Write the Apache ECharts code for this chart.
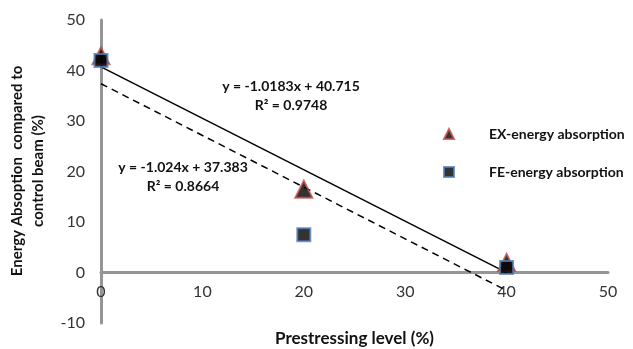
<!DOCTYPE html>
<html>
<head>
<meta charset="utf-8">
<script src="https://cdn.jsdelivr.net/npm/echarts@6/dist/echarts.min.js"></script>
<style>
  html, body { margin: 0; padding: 0; background: #fff; }
  #chart { width: 633px; height: 349px; }
</style>
</head>
<body>
<div id="chart"></div>
<script>
// prestressing levels (%)
const levels = [0, 20, 40];
// energy absorption relative to control beam (%)
const exValues = [42.9, 16.5, 2.0];
const feValues = [42.0, 7.5, 1.0];
// trendline equations as printed on the chart
const exFit = { slope: -1.0183, intercept: 40.715, r2: 0.9748 };
const feFit = { slope: -1.024, intercept: 37.383, r2: 0.8664 };
const xTicks = [0, 10, 20, 30, 40, 50];
const yTicks = [-10, 0, 10, 20, 30, 40, 50];

const font = "Lato, 'Open Sans', sans-serif";

function pairs(xs, ys) {
  return xs.map((x, i) => [x, ys[i]]);
}
function fitLine(fit) {
  const x0 = levels[0], x1 = levels[levels.length - 1];
  return [[x0, fit.slope * x0 + fit.intercept], [x1, fit.slope * x1 + fit.intercept]];
}

const chart = echarts.init(document.getElementById("chart"));

// x axis sits on y = 0, which is 1/6 of the plot height above the bottom
const plotH = 349 - 20 - 26;
const zeroOffset = plotH * (0 - yTicks[0]) / (yTicks[yTicks.length - 1] - yTicks[0]);

chart.setOption({
  animation: false,
  backgroundColor: "#fff",
  grid: { left: 101, right: 25, top: 20, bottom: 26, containLabel: false, outerBoundsMode: "none" },
  xAxis: {
    type: "value",
    min: xTicks[0],
    max: xTicks[xTicks.length - 1],
    interval: 10,
    offset: -zeroOffset,
    axisLine: { onZero: false, lineStyle: { color: "#959595", width: 3 } },
    axisTick: { show: false },
    splitLine: { show: false },
    axisLabel: { color: "#333", fontFamily: font, fontSize: 16, margin: 11 },
    name: "Prestressing level (%)",
    nameLocation: "middle",
    nameGap: 58,
    nameTextStyle: { color: "#111", fontFamily: font, fontSize: 17, fontWeight: "bold" }
  },
  yAxis: {
    type: "value",
    min: yTicks[0],
    max: yTicks[yTicks.length - 1],
    interval: 10,
    axisLine: { onZero: false, lineStyle: { color: "#959595", width: 3 } },
    axisTick: { show: false },
    splitLine: { show: false },
    axisLabel: { color: "#333", fontFamily: font, fontSize: 16, margin: 16 }
  },
  legend: {
    orient: "vertical",
    left: 438,
    top: 122,
    itemWidth: 10,
    itemHeight: 10,
    itemGap: 24,
    data: ["EX-energy absorption", "FE-energy absorption"],
    textStyle: { color: "#111", fontFamily: font, fontSize: 14, fontWeight: "bold", padding: [0, 0, 0, 30] }
  },
  graphic: [
    {
      type: "text", x: 28, y: 171, rotation: Math.PI / 2,
      style: {
        text: "Energy Absoption  compared to\ncontrol beam (%)",
        x: 0, y: 0, align: "center", verticalAlign: "middle",
        font: "bold 15px " + font, fill: "#111", lineHeight: 21
      }
    },
    {
      type: "text", x: 291, y: 96,
      style: {
        text: "y = " + exFit.slope + "x + " + exFit.intercept + "\nR\u00b2 = " + exFit.r2,
        align: "center", verticalAlign: "middle",
        font: "bold 14px " + font, fill: "#111", lineHeight: 19
      }
    },
    {
      type: "text", x: 183, y: 177,
      style: {
        text: "y = " + feFit.slope + "x + " + feFit.intercept + "\nR\u00b2 = " + feFit.r2,
        align: "center", verticalAlign: "middle",
        font: "bold 14px " + font, fill: "#111", lineHeight: 19
      }
    }
  ],
  series: [
    {
      name: "EX trend",
      type: "line",
      data: fitLine(exFit),
      symbol: "none",
      lineStyle: { color: "#000", width: 1.5 },
      z: 1
    },
    {
      name: "FE trend",
      type: "line",
      data: fitLine(feFit),
      symbol: "none",
      lineStyle: { color: "#000", width: 1.5, type: [7, 5] },
      z: 1
    },
    {
      name: "EX-energy absorption",
      type: "scatter",
      data: pairs(levels, exValues),
      symbol: "triangle",
      symbolSize: 17,
      itemStyle: { color: "#000", borderColor: "#c0504d", borderWidth: 2 },
      z: 3
    },
    {
      name: "FE-energy absorption",
      type: "scatter",
      data: pairs(levels, feValues),
      symbol: "rect",
      symbolSize: 13,
      itemStyle: { color: "#000", borderColor: "#4f81bd", borderWidth: 2 },
      z: 4
    }
  ]
});
</script>
</body>
</html>
